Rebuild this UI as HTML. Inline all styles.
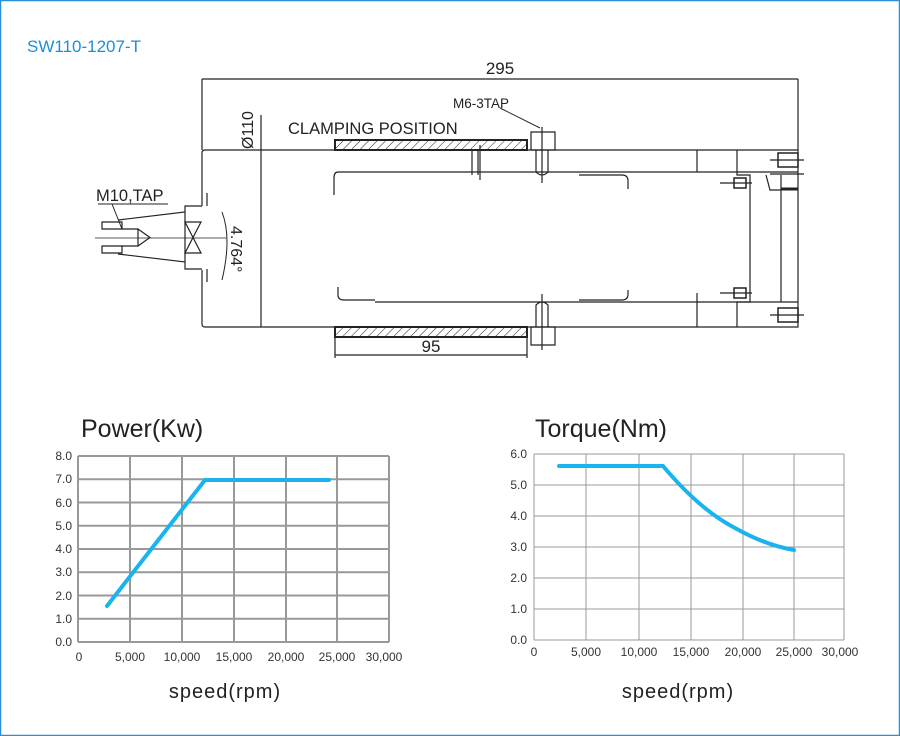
<!DOCTYPE html>
<html><head><meta charset="utf-8"><style>
html,body{margin:0;padding:0;background:#fff}
svg{display:block}
text{font-family:"Liberation Sans",sans-serif}
</style></head><body>
<svg width="900" height="736" viewBox="0 0 900 736" xmlns="http://www.w3.org/2000/svg">
<defs>
<pattern id="h" width="6" height="6" patternUnits="userSpaceOnUse" patternTransform="rotate(45)">
<line x1="0" y1="0" x2="0" y2="6" stroke="#222" stroke-width="1"/></pattern>
</defs>
<rect x="0.5" y="0.5" width="899" height="735" fill="#fff" stroke="#2a8fd6" stroke-width="1.5"/>
<text x="27" y="52" font-size="17" fill="#1a8fd6">SW110-1207-T</text>

<g stroke="#222" fill="none" stroke-width="1.2">
<line x1="202" y1="79" x2="798" y2="79"/>
<line x1="202" y1="79" x2="202" y2="150"/>
<line x1="798" y1="79" x2="798" y2="150"/>
<path d="M205 150 H798 V327 H205 Q202 327 202 324 V270 M202 206 V153 Q202 150 205 150"/>
<line x1="261" y1="115" x2="261" y2="327"/>
<path d="M202 206 H185 V212 L118 220 M185 212 V262 L118 254 M185 262 V269 H202"/>
<line x1="207" y1="193" x2="207" y2="206"/><line x1="207" y1="269" x2="207" y2="282"/>
<path d="M102 222 H122 V229 H102 Z M102 253 H122 V246 H102 Z"/>
<path d="M122 229 H138 V246 H122 M138 229 L150 237.5 L138 246"/>
<path d="M185 222 L201 253 H185 L201 222 Z"/>
<line x1="95" y1="238" x2="226" y2="238" stroke-width="0.8"/>
<path d="M222 212 Q232 238 222 280" stroke-width="1"/>
<line x1="112" y1="204" x2="122" y2="229" stroke-width="1"/>
<line x1="98" y1="204" x2="168" y2="204" stroke-width="1"/>
<rect x="335" y="140" width="192" height="10" fill="url(#h)" stroke-width="2"/>
<rect x="335" y="327" width="192" height="10" fill="url(#h)" stroke-width="2"/>
<line x1="335" y1="337" x2="335" y2="358"/><line x1="527" y1="337" x2="527" y2="358"/>
<line x1="335" y1="355" x2="527" y2="355"/>
<path d="M375 172 H338 Q334 172 334 178 V195"/>
<line x1="375" y1="172" x2="798" y2="172"/>
<path d="M579 175 H622 Q628 175 628 181 V189"/>
<path d="M338 287 V295 Q338 300 344 300 H375"/>
<line x1="375" y1="302" x2="798" y2="302"/>
<path d="M579 300 H622 Q628 300 628 294 V290"/>
<path d="M472 150 V175 M478 150 V175 M480 145 V180"/>
<path d="M531 132 H555 V150 H531 Z M536 150 V172 Q542 178 548 172 V150 M542 127 V183"/>
<path d="M531 327 H555 V345 H531 Z M536 327 V305 Q542 299 548 305 V327 M542 294 V350"/>
<line x1="500" y1="108" x2="540" y2="128" stroke-width="1"/>
<path d="M697 150 V172 M697 293 V327"/>
<path d="M737 150 V175 H750 V302 H737 V327"/>
<path d="M781 175 V302"/>
<path d="M720 183 H752 M720 293 H752" />
<rect x="734" y="178" width="12" height="10" stroke-width="1.5"/>
<rect x="734" y="288" width="12" height="10" stroke-width="1.5"/>
<path d="M770 160 H804 M770 174 H804 M770 315 H804"/>
<rect x="778" y="153" width="20" height="14" stroke-width="1.5"/>
<rect x="778" y="308" width="20" height="14" stroke-width="1.5"/>
<path d="M766 175 L770 190 H781" />
<line x1="781" y1="189" x2="798" y2="189" stroke-width="3"/>
</g>
<g font-size="17" fill="#222">
<text x="500" y="74" text-anchor="middle">295</text>
<text x="288" y="134" font-size="16.5">CLAMPING POSITION</text>
<text x="453" y="108" font-size="13.5">M6-3TAP</text>
<text x="96" y="201" font-size="16.5">M10,TAP</text>
<text x="431" y="352" text-anchor="middle">95</text>
<text transform="translate(253,149) rotate(-90)" font-size="16">Ø110</text>
<text transform="translate(231,226) rotate(90)" font-size="16">4.764°</text>
</g>

<text x="81" y="437" font-size="25" fill="#222">Power(Kw)</text>
<g stroke="#999" stroke-width="2">
<line x1="78" y1="456" x2="389" y2="456"/><line x1="78" y1="479.25" x2="389" y2="479.25"/>
<line x1="78" y1="502.5" x2="389" y2="502.5"/><line x1="78" y1="525.75" x2="389" y2="525.75"/>
<line x1="78" y1="549" x2="389" y2="549"/><line x1="78" y1="572.25" x2="389" y2="572.25"/>
<line x1="78" y1="595.5" x2="389" y2="595.5"/><line x1="78" y1="618.75" x2="389" y2="618.75"/>
<line x1="78" y1="642" x2="389" y2="642"/>
<line x1="78" y1="456" x2="78" y2="642"/><line x1="130" y1="456" x2="130" y2="642"/>
<line x1="182" y1="456" x2="182" y2="642"/><line x1="234" y1="456" x2="234" y2="642"/>
<line x1="286" y1="456" x2="286" y2="642"/><line x1="337" y1="456" x2="337" y2="642"/>
<line x1="389" y1="456" x2="389" y2="642"/>
</g>
<polyline points="107,606 205,480 329,480" fill="none" stroke="#19b4ee" stroke-width="4" stroke-linecap="round"/>
<g font-size="12" fill="#333" text-anchor="end">
<text x="72" y="460">8.0</text><text x="72" y="483">7.0</text><text x="72" y="507">6.0</text>
<text x="72" y="530">5.0</text><text x="72" y="553">4.0</text><text x="72" y="576">3.0</text>
<text x="72" y="600">2.0</text><text x="72" y="623">1.0</text><text x="72" y="646">0.0</text>
</g>
<g font-size="12" fill="#333" text-anchor="middle">
<text x="79" y="661">0</text><text x="130" y="661">5,000</text><text x="182" y="661">10,000</text>
<text x="234" y="661">15,000</text><text x="286" y="661">20,000</text><text x="337" y="661">25,000</text>
<text x="384" y="661">30,000</text>
</g>
<text x="225" y="698" font-size="20" fill="#222" text-anchor="middle" letter-spacing="1">speed(rpm)</text>

<text x="535" y="437" font-size="25" fill="#222">Torque(Nm)</text>
<g stroke="#999" stroke-width="1">
<line x1="534" y1="454" x2="844" y2="454"/><line x1="534" y1="485" x2="844" y2="485"/>
<line x1="534" y1="516" x2="844" y2="516"/><line x1="534" y1="547" x2="844" y2="547"/>
<line x1="534" y1="578" x2="844" y2="578"/><line x1="534" y1="609" x2="844" y2="609"/>
<line x1="534" y1="640" x2="844" y2="640"/>
<line x1="534" y1="454" x2="534" y2="640"/><line x1="586" y1="454" x2="586" y2="640"/>
<line x1="639" y1="454" x2="639" y2="640"/><line x1="691" y1="454" x2="691" y2="640"/>
<line x1="743" y1="454" x2="743" y2="640"/><line x1="794" y1="454" x2="794" y2="640"/>
<line x1="844" y1="454" x2="844" y2="640"/>
</g>
<path d="M559 466 H663 Q700 510 735 528 Q765 545 794 550" fill="none" stroke="#19b4ee" stroke-width="4" stroke-linecap="round"/>
<g font-size="12" fill="#333" text-anchor="end">
<text x="527" y="458">6.0</text><text x="527" y="489">5.0</text><text x="527" y="520">4.0</text>
<text x="527" y="551">3.0</text><text x="527" y="582">2.0</text><text x="527" y="613">1.0</text>
<text x="527" y="644">0.0</text>
</g>
<g font-size="12" fill="#333" text-anchor="middle">
<text x="534" y="656">0</text><text x="586" y="656">5,000</text><text x="639" y="656">10,000</text>
<text x="691" y="656">15,000</text><text x="743" y="656">20,000</text><text x="794" y="656">25,000</text>
<text x="840" y="656">30,000</text>
</g>
<text x="678" y="698" font-size="20" fill="#222" text-anchor="middle" letter-spacing="1">speed(rpm)</text>
</svg>
</body></html>
